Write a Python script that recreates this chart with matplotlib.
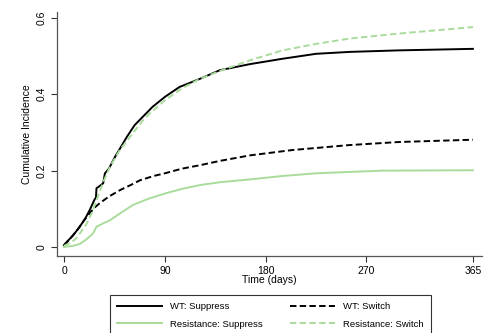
import matplotlib
matplotlib.use("Agg")
import matplotlib.pyplot as plt
from matplotlib.ticker import FixedLocator, FixedFormatter

plt.rcParams['font.family'] = ['Liberation Sans', 'DejaVu Sans']

# readings from the picture (days, cumulative incidence)
wt_sup_t = [0, 3, 8, 14, 19, 23, 27, 28.5, 29, 32, 35, 36.5, 40, 42.5, 45.5, 50,
            56, 63, 70, 79, 90, 103, 121, 139, 166, 195, 225, 255, 299, 365]
wt_sup_y = [0.005, 0.015, 0.03, 0.053, 0.075, 0.097, 0.123, 0.13, 0.154, 0.16,
            0.167, 0.193, 0.205, 0.219, 0.236, 0.258, 0.288, 0.319, 0.34, 0.367,
            0.393, 0.419, 0.44, 0.463, 0.479, 0.493, 0.506, 0.511, 0.515, 0.519]

wt_sw_t = [0, 5, 12, 18, 23, 28, 32, 40, 50, 60, 68, 80, 90, 105, 121, 140,
           166, 204, 255, 299, 365]
wt_sw_y = [0.005, 0.02, 0.045, 0.07, 0.089, 0.105, 0.115, 0.132, 0.149, 0.163,
           0.175, 0.186, 0.193, 0.205, 0.214, 0.226, 0.24, 0.254, 0.267, 0.275,
           0.281]

res_sup_t = [0, 8, 14, 20, 26, 29, 35, 41, 50, 61.5, 75, 90, 105, 121, 140,
             166, 195, 225, 284, 365]
res_sup_y = [0.0, 0.003, 0.008, 0.02, 0.036, 0.053, 0.062, 0.07, 0.088, 0.11,
             0.126, 0.14, 0.152, 0.162, 0.17, 0.177, 0.186, 0.193, 0.2, 0.201]

res_sw_t = [0, 5, 10, 14, 20, 25, 29, 35, 41, 50, 61.5, 70, 76.6, 90, 105, 121,
            140, 166, 195, 225, 255, 299, 365]
res_sw_y = [0.003, 0.01, 0.02, 0.035, 0.06, 0.09, 0.123, 0.17, 0.21, 0.255,
            0.298, 0.33, 0.35, 0.384, 0.415, 0.44, 0.462, 0.489, 0.515, 0.532,
            0.546, 0.559, 0.576]

x_ticks = [0, 90, 180, 270, 365]
y_ticks = [0, 0.2, 0.4, 0.6]
y_labels = ["0", "0.2", "0.4", "0.6"]

green = "#a9dc9c"

fig = plt.figure(figsize=(5.01, 3.33), dpi=100)
ax = fig.add_axes([0.1138, 0.2312, 0.848, 0.733])

ax.plot(wt_sup_t, wt_sup_y, color="black", lw=1.4, label="WT: Suppress")
ax.plot(wt_sw_t, wt_sw_y, color="black", lw=1.4, dashes=(3.3, 1.7),
        label="WT: Switch")
ax.plot(res_sup_t, res_sup_y, color=green, lw=1.4,
        label="Resistance: Suppress")
ax.plot(res_sw_t, res_sw_y, color=green, lw=1.4, dashes=(3.3, 1.7),
        label="Resistance: Switch")

ax.set_xlim(-6.25, 373)
ax.set_ylim(-0.0236, 0.6157)
ax.xaxis.set_major_locator(FixedLocator(x_ticks))
ax.yaxis.set_major_locator(FixedLocator(y_ticks))
ax.yaxis.set_major_formatter(FixedFormatter(y_labels))
ax.tick_params(axis="both", direction="out", length=4, width=0.8,
               labelsize=7.5, colors="#333333", labelcolor="black")
for lab in ax.get_yticklabels():
    lab.set_rotation(90)
    lab.set_va("center")

for s in ["top", "right"]:
    ax.spines[s].set_visible(False)
for s in ["left", "bottom"]:
    ax.spines[s].set_color("#555555")
    ax.spines[s].set_linewidth(0.9)

ax.set_xlabel("Time (days)", fontsize=7.5, labelpad=-1)
ax.set_ylabel("Cumulative Incidence", fontsize=7.5, labelpad=3)

# row-wise order for a 2-column legend
handles, labels = ax.get_legend_handles_labels()
order = [0, 2, 1, 3]
leg = fig.legend([handles[i] for i in order], [labels[i] for i in order],
                 loc="upper left", bbox_to_anchor=(110 / 501, 1 - 295 / 333),
                 ncol=2, fontsize=6.8, frameon=True, fancybox=False,
                 edgecolor="black", handlelength=4.8, handletextpad=0.85,
                 columnspacing=2.8, borderpad=0.75, labelspacing=0.9,
                 borderaxespad=0)
leg.get_frame().set_linewidth(0.8)

fig.savefig("out.png", dpi=100)
